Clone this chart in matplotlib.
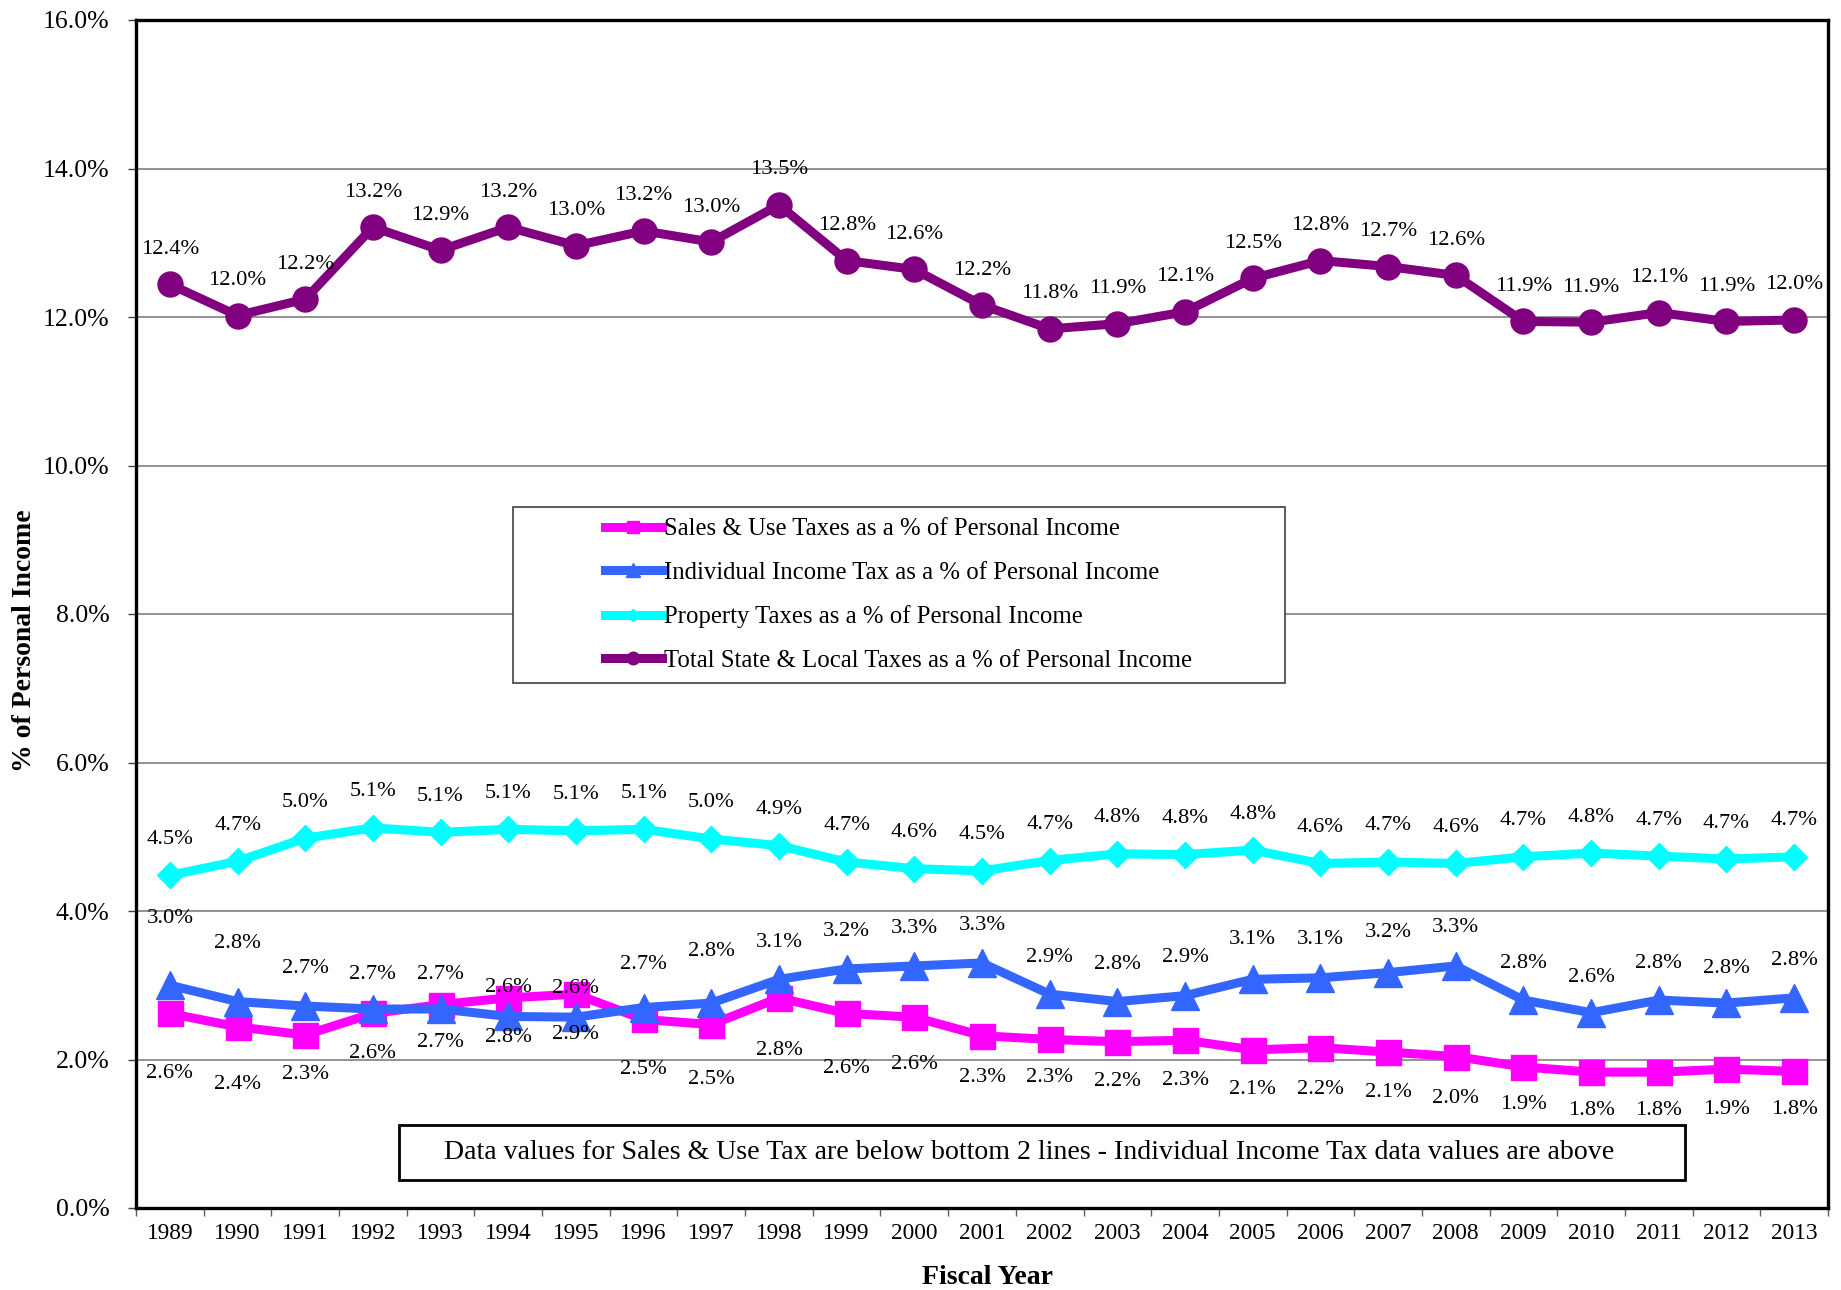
import matplotlib
matplotlib.use("Agg")
import matplotlib.pyplot as plt
from matplotlib.patches import Rectangle
from matplotlib.ticker import FuncFormatter, FixedLocator, NullFormatter

plt.rcParams['font.family'] = ['Liberation Serif', 'DejaVu Serif']

years = [str(y) for y in range(1989, 2014)]
sales = [2.62, 2.44, 2.33, 2.62, 2.74, 2.83, 2.88, 2.54, 2.47, 2.83, 2.62, 2.57, 2.32,
         2.27, 2.24, 2.26, 2.13, 2.16, 2.10, 2.04, 1.90, 1.83, 1.83, 1.87, 1.84]
income = [3.00, 2.78, 2.72, 2.68, 2.68, 2.58, 2.57, 2.70, 2.76, 3.08, 3.22, 3.26, 3.30,
          2.88, 2.78, 2.86, 3.08, 3.10, 3.17, 3.26, 2.80, 2.63, 2.80, 2.76, 2.83]
prop = [4.48, 4.67, 4.98, 5.12, 5.06, 5.10, 5.08, 5.10, 4.97, 4.88, 4.66, 4.57, 4.54,
        4.68, 4.77, 4.76, 4.82, 4.64, 4.66, 4.64, 4.73, 4.78, 4.74, 4.70, 4.73]
total = [12.44, 12.02, 12.24, 13.21, 12.90, 13.21, 12.96, 13.16, 13.01, 13.51, 12.76, 12.64, 12.16,
         11.84, 11.91, 12.07, 12.52, 12.76, 12.68, 12.56, 11.94, 11.93, 12.06, 11.94, 11.96]

names = ["Sales & Use Taxes as a % of Personal Income",
         "Individual Income Tax as a % of Personal Income",
         "Property Taxes as a % of Personal Income",
         "Total State & Local Taxes as a % of Personal Income"]
note = "Data values for Sales & Use Tax are below bottom 2 lines - Individual Income Tax data values are above"

# label offsets (pixels; negative = below the point)
sales_off = [-60, -58, -40, -40, -38, -40, -40, -50, -55, -53, -55, -47, -42, -38, -40, -40,
             -40, -42, -40, -42, -38, -38, -38, -40, -38]
income_off = [67, 58, 38, 35, 35, 29, 29, 43, 52, 37, 37, 37, 37, 37, 37, 38, 40, 38, 40, 38,
              37, 35, 37, 35, 37]
prop_off = [36] * len(years)
total_off = [35] * len(years)

DPI = 100
fig = plt.figure(figsize=(18.41, 12.90), dpi=DPI)
ax = fig.add_axes([136 / 1841, 1 - 1208 / 1290, 1692 / 1841, 1188 / 1290])

x = list(range(len(years)))
specs = [
    (sales, '#FF00FF', 's', 18, sales_off),
    (income, '#3366FF', '^', 19.5, income_off),
    (prop, '#00FFFF', 'D', 13, prop_off),
    (total, '#800080', 'o', 18, total_off),
]
handles = []
for (vals, col, mk, ms, offs), name in zip(specs, names):
    h, = ax.plot(x, vals, color=col, lw=6.5, marker=mk, markersize=ms,
                 markerfacecolor=col, markeredgecolor=col, zorder=3, label=name)
    handles.append(h)
    for xi, v, o in zip(x, vals, offs):
        ax.annotate(f"{v:.1f}%", (xi, v), xytext=(0, o * 72 / DPI), textcoords='offset points',
                    ha='center', va='center', fontsize=16.2, zorder=4)

ax.set_xlim(-0.5, len(years) - 0.5)
ax.set_ylim(0, 16)
ax.yaxis.set_major_locator(FixedLocator([0, 2, 4, 6, 8, 10, 12, 14, 16]))
ax.yaxis.set_major_formatter(FuncFormatter(lambda v, p: f"{v:.1f}%"))
ax.grid(axis='y', color='#808080', lw=1.2, zorder=0)
ax.set_axisbelow(True)

ax.set_xticks([i - 0.5 for i in range(len(years) + 1)])
ax.xaxis.set_major_formatter(NullFormatter())
ax.set_xticks(x, minor=True)
ax.set_xticklabels(years, minor=True)
ax.tick_params(axis='x', which='minor', length=0, labelsize=16.8, pad=11)
ax.tick_params(axis='x', which='major', length=6, width=1, direction='out', color='#606060')
ax.tick_params(axis='y', labelsize=18.5, length=6, width=1, direction='out', pad=13,
               color='#404040')
for s in ax.spines.values():
    s.set_linewidth(2.4)

fig.text(988 / 1841, 1 - 1278 / 1290, "Fiscal Year", fontsize=20, fontweight='bold',
         ha='center', va='center')
fig.text(25 / 1841, 1 - 641 / 1290, "% of Personal Income", fontsize=20, fontweight='bold',
         ha='center', va='center', rotation=90)

# legend frame
ax.add_patch(Rectangle((0.223, 0.442), 0.456, 0.148, transform=ax.transAxes,
                       facecolor='white', edgecolor='#404040', lw=1.2, zorder=5))
leg = ax.legend(handles=handles, loc='center left', bbox_to_anchor=(0.277, 0.516),
                frameon=False, borderpad=0, borderaxespad=0, fontsize=17.8,
                handlelength=2.3, handletextpad=0.1, labelspacing=0.86, markerscale=0.5)
leg.set_zorder(6)

# note box
ax.add_patch(Rectangle((0.1554, 0.0236), 0.7601, 0.0463, transform=ax.transAxes,
                       facecolor='white', edgecolor='black', lw=2, zorder=5))
ax.text(0.528, 0.047, note, transform=ax.transAxes, ha='center', va='center',
        fontsize=20.1, zorder=6)

fig.savefig("out.png", dpi=DPI)
